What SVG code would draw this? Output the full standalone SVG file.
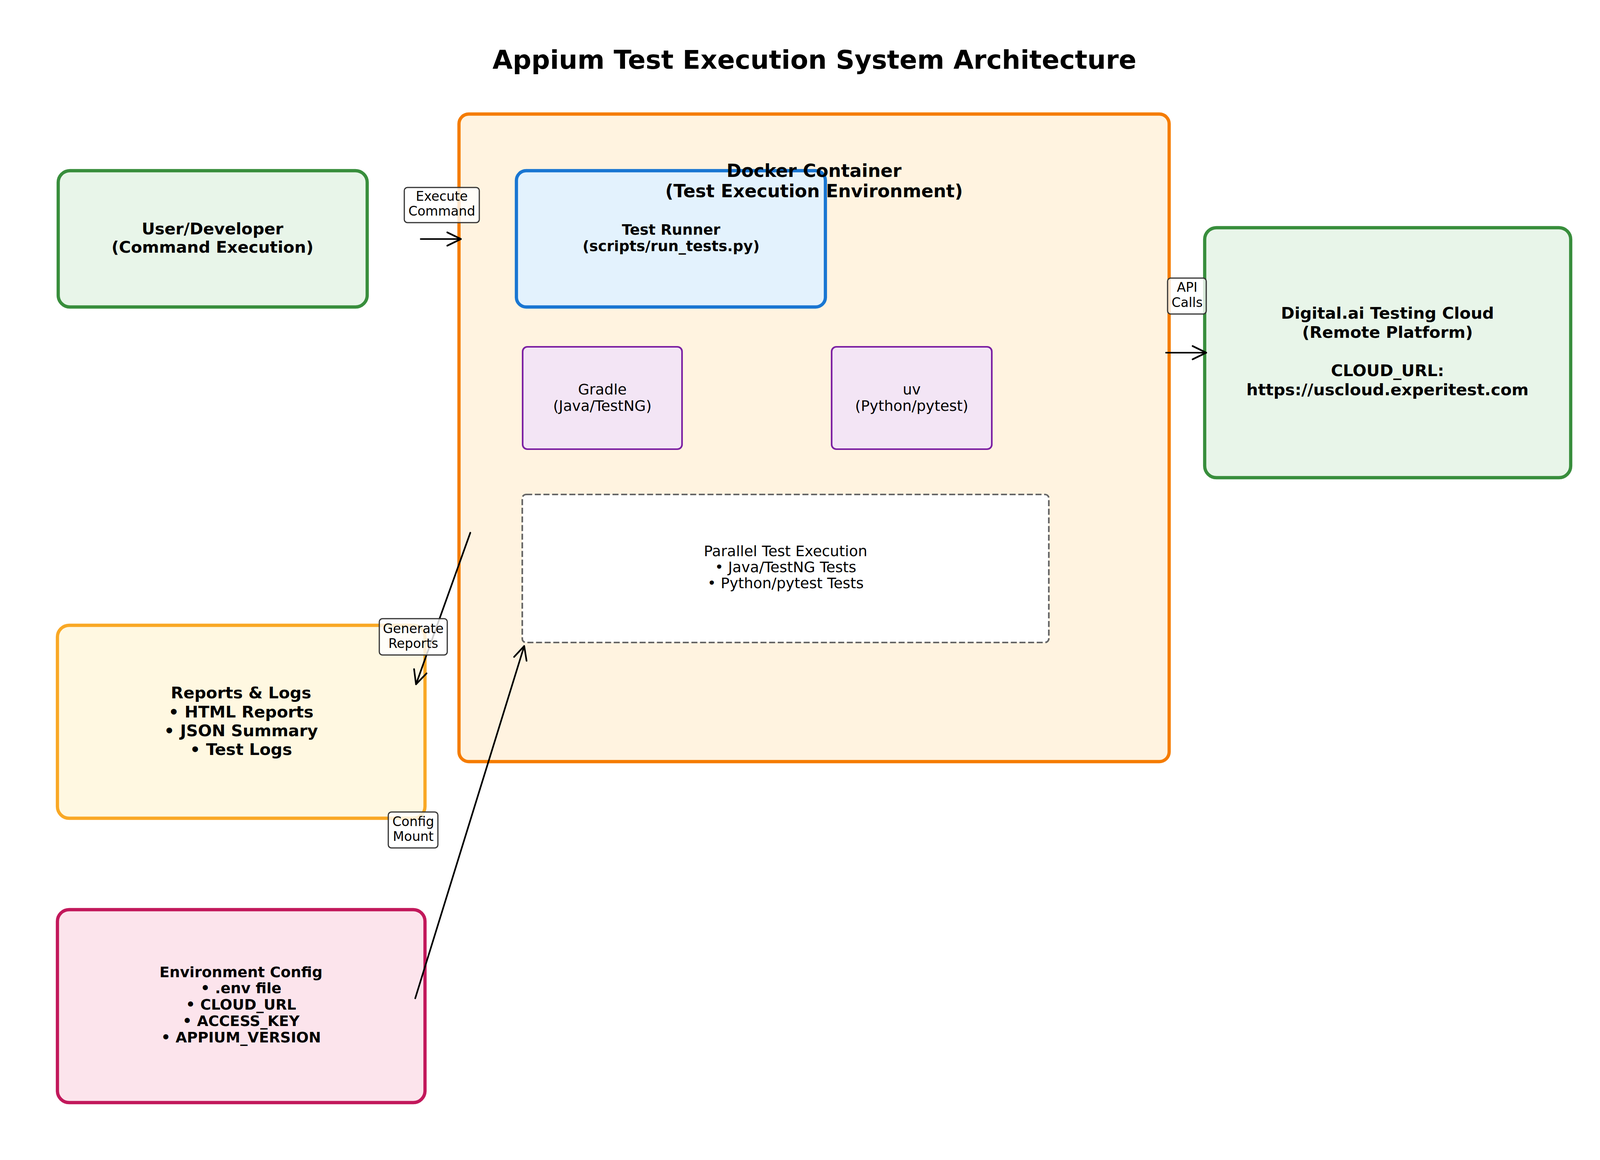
<svg xmlns="http://www.w3.org/2000/svg" width="4170" height="2970" viewBox="0 0 4170 2970">
<style>
text{font-family:"DejaVu Sans","Liberation Sans",sans-serif;fill:#000;text-anchor:middle}
.title{font-size:66.7px;font-weight:bold}
.b10{font-size:41.7px;font-weight:bold}
.b11{font-size:45.8px;font-weight:bold}
.b9{font-size:37.5px;font-weight:bold}
.n9{font-size:37.5px}
.lbl{font-size:33.3px}
.green{fill:#E8F5E9;stroke:#388E3C;stroke-width:8.3}
.orange{fill:#FFF3E0;stroke:#F57C00;stroke-width:8.3}
.blue{fill:#E3F2FD;stroke:#1976D2;stroke-width:8.3}
.purple{fill:#F3E5F5;stroke:#7B1FA2;stroke-width:4.2}
.yellow{fill:#FFF8E1;stroke:#F9A825;stroke-width:8.3}
.pink{fill:#FCE4EC;stroke:#C2185B;stroke-width:8.3}
.dash{fill:#FFFFFF;stroke:#666666;stroke-width:4.2;stroke-dasharray:15.4 6.7}
.conn{fill:none;stroke:#000;stroke-width:4.2;stroke-linecap:round;stroke-linejoin:round}
.lbox{fill:#FFFFFF;fill-opacity:0.8;stroke:#333333;stroke-width:3}
</style>
<rect x="0" y="0" width="4170" height="2970" fill="#FFFFFF"/>
<text id="title" class="title" x="2085" y="176">Appium Test Execution System Architecture</text>

<g id="user">
<rect class="green" x="149" y="437" width="791" height="349" rx="30"/>
<text class="b10" x="544" y="600">User/Developer</text>
<text class="b10" x="544" y="647">(Command Execution)</text>
</g>

<g id="docker">
<rect class="orange" x="1175" y="292" width="1818" height="1658" rx="25"/>
<g id="test-runner">
<rect class="blue" x="1322" y="437" width="791" height="349" rx="25"/>
<text class="b9" x="1718" y="601">Test Runner</text>
<text class="b9" x="1718" y="643">(scripts/run_tests.py)</text>
</g>
<g id="gradle">
<rect class="purple" x="1338" y="888" width="408" height="262" rx="12"/>
<text class="n9" x="1542" y="1010">Gradle</text>
<text class="n9" x="1542" y="1052">(Java/TestNG)</text>
</g>
<g id="uv">
<rect class="purple" x="2129" y="888" width="410" height="262" rx="12"/>
<text class="n9" x="2334" y="1010">uv</text>
<text class="n9" x="2334" y="1052">(Python/pytest)</text>
</g>
<g id="parallel">
<rect class="dash" x="1337" y="1266" width="1348" height="379" rx="10"/>
<text class="n9" x="2011" y="1424">Parallel Test Execution</text>
<text class="n9" x="2011" y="1465">• Java/TestNG Tests</text>
<text class="n9" x="2011" y="1506">• Python/pytest Tests</text>
</g>
<text class="b11" x="2084" y="453">Docker Container</text>
<text class="b11" x="2084" y="505">(Test Execution Environment)</text>
</g>

<g id="cloud">
<rect class="green" x="3084" y="583" width="937" height="640" rx="30"/>
<text class="b10" x="3552" y="816">Digital.ai Testing Cloud</text>
<text class="b10" x="3552" y="865">(Remote Platform)</text>
<text class="b10" x="3552" y="963">CLOUD_URL:</text>
<text class="b10" x="3552" y="1012">https://uscloud.experitest.com</text>
</g>

<g id="reports">
<rect class="yellow" x="147" y="1601" width="941" height="494" rx="30"/>
<text class="b10" x="617" y="1788">Reports &amp; Logs</text>
<text class="b10" x="617" y="1837">• HTML Reports</text>
<text class="b10" x="617" y="1885">• JSON Summary</text>
<text class="b10" x="617" y="1933">• Test Logs</text>
</g>

<g id="env">
<rect class="pink" x="147" y="2329" width="941" height="494" rx="30"/>
<text class="b9" x="617" y="2502">Environment Config</text>
<text class="b9" x="617" y="2543">• .env file</text>
<text class="b9" x="617" y="2585">• CLOUD_URL</text>
<text class="b9" x="617" y="2627">• ACCESS_KEY</text>
<text class="b9" x="617" y="2669">• APPIUM_VERSION</text>
</g>

<g id="connectors">
<g id="c-execute">
<line class="conn" x1="1077" y1="612" x2="1180" y2="612"/>
<polyline class="conn" points="1145,595 1180,612 1145,629"/>
</g>
<g id="c-api">
<line class="conn" x1="2985" y1="903" x2="3088" y2="903"/>
<polyline class="conn" points="3053,886 3088,903 3053,920"/>
</g>
<g id="c-generate">
<line class="conn" x1="1204" y1="1364" x2="1065" y2="1752"/>
<polyline class="conn" points="1060,1713 1065,1752 1092,1724"/>
</g>
<g id="c-config">
<line class="conn" x1="1063" y1="2556" x2="1342" y2="1654"/>
<polyline class="conn" points="1316,1682 1342,1654 1348,1692"/>
</g>
<g id="labels">
<rect class="lbox" x="1035" y="480" width="192" height="90" rx="8"/>
<text class="lbl" x="1131" y="514">Execute</text>
<text class="lbl" x="1131" y="552">Command</text>
<rect class="lbox" x="2989" y="712" width="99" height="92" rx="8"/>
<text class="lbl" x="3039" y="747">API</text>
<text class="lbl" x="3039" y="786">Calls</text>
<rect class="lbox" x="971" y="1584" width="174" height="93" rx="8"/>
<text class="lbl" x="1058" y="1621">Generate</text>
<text class="lbl" x="1058" y="1659">Reports</text>
<rect class="lbox" x="994" y="2079" width="127" height="92" rx="8"/>
<text class="lbl" x="1058" y="2115">Config</text>
<text class="lbl" x="1058" y="2153">Mount</text>
</g>
</g>
</svg>
